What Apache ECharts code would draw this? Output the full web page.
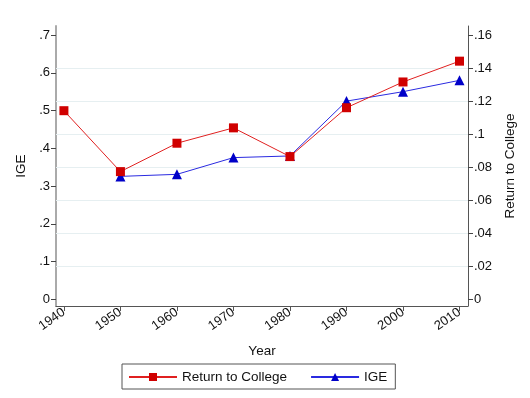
<!DOCTYPE html>
<html>
<head>
<meta charset="utf-8">
<script src="https://cdn.jsdelivr.net/npm/echarts@6/dist/echarts.min.js"></script>
<style>
  html, body { margin: 0; padding: 0; background: #fff; }
  #chart { width: 530px; height: 398px; }
</style>
</head>
<body>
<div id="chart"></div>
<script>
  // data
  var years = [1940, 1950, 1960, 1970, 1980, 1990, 2000, 2010];
  var returnToCollege = [0.1142, 0.0773, 0.0945, 0.1038, 0.0864, 0.1160, 0.1316, 0.1442];
  var ige = [null, 0.3256, 0.331, 0.3753, 0.3797, 0.525, 0.550, 0.580];
  var igeTicks = [0, 0.1, 0.2, 0.3, 0.4, 0.5, 0.6, 0.7];
  var rtcTicks = [0, 0.02, 0.04, 0.06, 0.08, 0.1, 0.12, 0.14, 0.16];
  var gridValues = [0.02, 0.04, 0.06, 0.08, 0.1, 0.12, 0.14];

  function dotLabel(v) {
    // Stata style: .7 instead of 0.7
    var s = String(Math.round(v * 1000) / 1000);
    return s.replace(/^0\./, '.');
  }

  var myChart = echarts.init(document.getElementById('chart'));
  var font = 'Liberation Sans, Arial, sans-serif';

  myChart.setOption({
    animation: false,
    textStyle: { fontFamily: font },
    grid: { left: 56, right: 62, top: 26, bottom: 92 },
    legend: {
      bottom: 9,
      left: 122,
      itemWidth: 48,
      itemHeight: 10,
      itemGap: 23,
      padding: [6, 8, 5, 6],
      borderColor: '#555',
      borderWidth: 1,
      borderRadius: 0,
      textStyle: { fontSize: 13.5, color: '#111', fontFamily: font },
      data: ['Return to College', 'IGE']
    },
    xAxis: {
      type: 'value',
      min: 1938.6,
      max: 2011.5,
      name: 'Year',
      nameLocation: 'middle',
      nameGap: 38,
      nameTextStyle: { fontSize: 13.5, color: '#111' },
      axisLine: { onZero: false, lineStyle: { color: '#555', width: 1 } },
      axisTick: { show: true, length: 5, lineStyle: { color: '#555' }, customValues: years },
      axisLabel: {
        customValues: years,
        rotate: 35,
        fontSize: 13,
        color: '#111',
        margin: 5,
        formatter: function (v) { return String(v); }
      },
      splitLine: { show: false }
    },
    yAxis: [
      {
        type: 'value',
        position: 'left',
        min: -0.0178,
        max: 0.724,
        name: 'IGE',
        nameLocation: 'middle',
        nameRotate: 90,
        nameGap: 25,
        nameTextStyle: { fontSize: 13.5, color: '#111' },
        axisLine: { show: true, onZero: false, lineStyle: { color: '#aaa', width: 2 } },
        axisTick: { show: true, length: 5, lineStyle: { color: '#444' }, customValues: igeTicks },
        axisLabel: { customValues: igeTicks, fontSize: 13, color: '#111', margin: 6, formatter: dotLabel },
        splitLine: { show: false }
      },
      {
        type: 'value',
        position: 'right',
        min: -0.0041,
        max: 0.1655,
        name: 'Return to College',
        nameLocation: 'middle',
        nameRotate: 90,
        nameGap: 28,
        nameTextStyle: { fontSize: 13.5, color: '#111' },
        axisLine: { show: true, onZero: false, lineStyle: { color: '#555', width: 1 } },
        axisTick: { show: true, length: 5, lineStyle: { color: '#444' }, customValues: rtcTicks },
        axisLabel: { customValues: rtcTicks, fontSize: 13, color: '#111', margin: 6, formatter: dotLabel },
        splitLine: { show: false }
      }
    ],
    series: [
      {
        name: 'Return to College',
        type: 'line',
        yAxisIndex: 1,
        data: years.map(function (y, i) { return [y, returnToCollege[i]]; }),
        symbol: 'rect',
        symbolSize: 9,
        lineStyle: { color: '#e02020', width: 1 },
        itemStyle: { color: '#d00000' },
        z: 3,
        markLine: {
          silent: true,
          symbol: 'none',
          label: { show: false },
          lineStyle: { color: '#e6eff1', width: 1, type: 'solid' },
          z: 1,
          data: gridValues.map(function (v) { return { yAxis: v }; })
        }
      },
      {
        name: 'IGE',
        type: 'line',
        yAxisIndex: 0,
        data: years.map(function (y, i) { return [y, ige[i]]; }),
        symbol: 'triangle',
        symbolSize: 10,
        lineStyle: { color: '#2a2ae0', width: 1 },
        itemStyle: { color: '#0000c8' },
        z: 2
      }
    ]
  });
</script>
</body>
</html>
